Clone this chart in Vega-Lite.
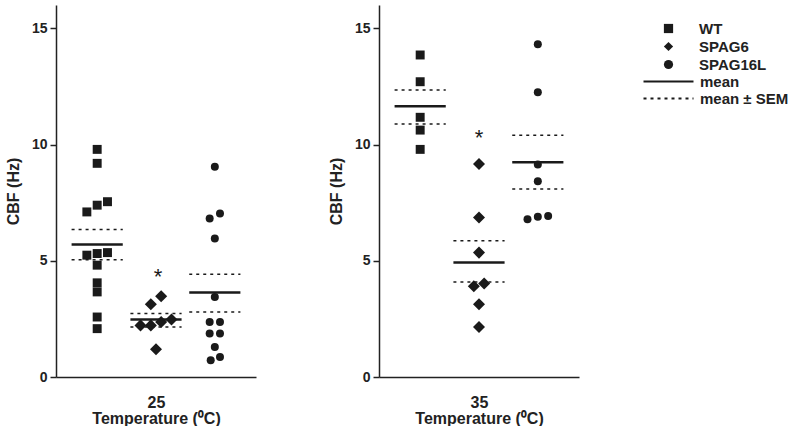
{
  "$schema": "https://vega.github.io/schema/vega-lite/v6.json",
  "padding": {"left": 5, "top": 5, "right": 0, "bottom": 0},
  "background": "white",
  "spacing": 72,
  "config": {
    "font": "Liberation Sans",
    "view": {"stroke": null},
    "axis": {"grid": false, "domainColor": "#222", "domainWidth": 1.5, "tickColor": "#222", "tickWidth": 1.5, "tickSize": 6, "labelFontWeight": "bold", "titleFontWeight": "bold", "labelColor": "#222", "titleColor": "#222", "labelFontSize": 14, "titleFontSize": 16, "labelPadding": 3, "titleLineHeight": 16},
    "legend": {"labelFontSize": 15, "labelFontWeight": "bold", "labelColor": "#222", "rowPadding": 1, "padding": 0}
  },
  "datasets": {
    "points": [
      {"temp": 25, "genotype": "WT", "col": -1, "cbf": 7.10},
      {"temp": 25, "genotype": "WT", "col": -1, "cbf": 5.24},
      {"temp": 25, "genotype": "WT", "col": 0, "cbf": 9.79},
      {"temp": 25, "genotype": "WT", "col": 0, "cbf": 9.19},
      {"temp": 25, "genotype": "WT", "col": 0, "cbf": 7.39},
      {"temp": 25, "genotype": "WT", "col": 0, "cbf": 5.31},
      {"temp": 25, "genotype": "WT", "col": 0, "cbf": 4.81},
      {"temp": 25, "genotype": "WT", "col": 0, "cbf": 4.05},
      {"temp": 25, "genotype": "WT", "col": 0, "cbf": 3.66},
      {"temp": 25, "genotype": "WT", "col": 0, "cbf": 2.58},
      {"temp": 25, "genotype": "WT", "col": 0, "cbf": 2.08},
      {"temp": 25, "genotype": "WT", "col": 1, "cbf": 7.54},
      {"temp": 25, "genotype": "WT", "col": 1, "cbf": 5.35},
      {"temp": 25, "genotype": "SPAG6", "col": -1.5, "cbf": 2.22},
      {"temp": 25, "genotype": "SPAG6", "col": -0.5, "cbf": 2.22},
      {"temp": 25, "genotype": "SPAG6", "col": -0.5, "cbf": 3.13},
      {"temp": 25, "genotype": "SPAG6", "col": 0.5, "cbf": 3.47},
      {"temp": 25, "genotype": "SPAG6", "col": 0.5, "cbf": 2.37},
      {"temp": 25, "genotype": "SPAG6", "col": 1.5, "cbf": 2.47},
      {"temp": 25, "genotype": "SPAG6", "col": 0, "cbf": 1.19},
      {"temp": 25, "genotype": "SPAG16L", "col": 0, "cbf": 9.04},
      {"temp": 25, "genotype": "SPAG16L", "col": -0.5, "cbf": 6.82},
      {"temp": 25, "genotype": "SPAG16L", "col": 0.5, "cbf": 7.03},
      {"temp": 25, "genotype": "SPAG16L", "col": 0, "cbf": 5.96},
      {"temp": 25, "genotype": "SPAG16L", "col": 0, "cbf": 3.44},
      {"temp": 25, "genotype": "SPAG16L", "col": -0.5, "cbf": 2.37},
      {"temp": 25, "genotype": "SPAG16L", "col": 0.5, "cbf": 2.37},
      {"temp": 25, "genotype": "SPAG16L", "col": -0.5, "cbf": 1.87},
      {"temp": 25, "genotype": "SPAG16L", "col": 0.5, "cbf": 1.87},
      {"temp": 25, "genotype": "SPAG16L", "col": 0, "cbf": 1.29},
      {"temp": 25, "genotype": "SPAG16L", "col": -0.4, "cbf": 0.72},
      {"temp": 25, "genotype": "SPAG16L", "col": 0.5, "cbf": 0.86},
      {"temp": 35, "genotype": "WT", "col": 0, "cbf": 13.85},
      {"temp": 35, "genotype": "WT", "col": 0, "cbf": 12.70},
      {"temp": 35, "genotype": "WT", "col": 0, "cbf": 11.17},
      {"temp": 35, "genotype": "WT", "col": 0, "cbf": 10.62},
      {"temp": 35, "genotype": "WT", "col": 0, "cbf": 9.79},
      {"temp": 35, "genotype": "SPAG6", "col": 0, "cbf": 9.16},
      {"temp": 35, "genotype": "SPAG6", "col": 0, "cbf": 6.86},
      {"temp": 35, "genotype": "SPAG6", "col": 0, "cbf": 5.35},
      {"temp": 35, "genotype": "SPAG6", "col": -0.5, "cbf": 3.90},
      {"temp": 35, "genotype": "SPAG6", "col": 0.5, "cbf": 4.02},
      {"temp": 35, "genotype": "SPAG6", "col": 0, "cbf": 3.13},
      {"temp": 35, "genotype": "SPAG6", "col": 0, "cbf": 2.15},
      {"temp": 35, "genotype": "SPAG16L", "col": 0, "cbf": 14.31},
      {"temp": 35, "genotype": "SPAG16L", "col": 0, "cbf": 12.25},
      {"temp": 35, "genotype": "SPAG16L", "col": 0, "cbf": 9.14},
      {"temp": 35, "genotype": "SPAG16L", "col": 0, "cbf": 8.42},
      {"temp": 35, "genotype": "SPAG16L", "col": -1, "cbf": 6.79},
      {"temp": 35, "genotype": "SPAG16L", "col": 0, "cbf": 6.89},
      {"temp": 35, "genotype": "SPAG16L", "col": 1, "cbf": 6.92}
    ],
    "stats": [
      {"temp": 25, "genotype": "WT", "stat": "mean", "cbf": 5.70},
      {"temp": 25, "genotype": "WT", "stat": "mean ± SEM", "cbf": 6.34},
      {"temp": 25, "genotype": "WT", "stat": "mean ± SEM", "cbf": 5.04},
      {"temp": 25, "genotype": "SPAG6", "stat": "mean", "cbf": 2.47},
      {"temp": 25, "genotype": "SPAG6", "stat": "mean ± SEM", "cbf": 2.73},
      {"temp": 25, "genotype": "SPAG6", "stat": "mean ± SEM", "cbf": 2.15},
      {"temp": 25, "genotype": "SPAG16L", "stat": "mean", "cbf": 3.63},
      {"temp": 25, "genotype": "SPAG16L", "stat": "mean ± SEM", "cbf": 4.42},
      {"temp": 25, "genotype": "SPAG16L", "stat": "mean ± SEM", "cbf": 2.80},
      {"temp": 35, "genotype": "WT", "stat": "mean", "cbf": 11.65},
      {"temp": 35, "genotype": "WT", "stat": "mean ± SEM", "cbf": 12.34},
      {"temp": 35, "genotype": "WT", "stat": "mean ± SEM", "cbf": 10.88},
      {"temp": 35, "genotype": "SPAG6", "stat": "mean", "cbf": 4.92},
      {"temp": 35, "genotype": "SPAG6", "stat": "mean ± SEM", "cbf": 5.86},
      {"temp": 35, "genotype": "SPAG6", "stat": "mean ± SEM", "cbf": 4.09},
      {"temp": 35, "genotype": "SPAG16L", "stat": "mean", "cbf": 9.24},
      {"temp": 35, "genotype": "SPAG16L", "stat": "mean ± SEM", "cbf": 10.40},
      {"temp": 35, "genotype": "SPAG16L", "stat": "mean ± SEM", "cbf": 8.09}
    ],
    "sig": [
      {"temp": 25, "genotype": "SPAG6", "cbf": 4.45, "label": "*"},
      {"temp": 35, "genotype": "SPAG6", "cbf": 10.41, "label": "*"}
    ]
  },
  "hconcat": [
    {
      "width": 200, "height": 372,
      "layer": [
        {
          "data": {"name": "points"},
          "transform": [{"filter": "datum.temp == 25"}],
          "mark": {"type": "point", "filled": true, "opacity": 1, "color": "#1a1a1a"},
          "encoding": {
            "x": {"field": "genotype", "type": "nominal", "scale": {"domain": ["WT", "SPAG6", "SPAG16L"], "paddingInner": 0, "paddingOuter": 0.2}, "axis": {"labels": false, "ticks": false, "title": ["25", "Temperature (⁰C)"], "titlePadding": 17}},
            "xOffset": {"field": "col", "type": "quantitative", "scale": {"domain": [-2.85, 2.85]}},
            "y": {"field": "cbf", "type": "quantitative", "scale": {"domain": [0, 16]}, "axis": {"values": [0, 5, 10, 15], "title": "CBF (Hz)", "titlePadding": 10}},
            "shape": {"field": "genotype", "type": "nominal", "scale": {"domain": ["WT", "SPAG6", "SPAG16L"], "range": ["square", "diamond", "circle"]}, "legend": {"title": null, "orient": "none", "legendX": 605, "legendY": 16, "symbolSize": 85, "symbolFillColor": "#1a1a1a", "symbolStrokeColor": "#1a1a1a", "labelOffset": 23}},
            "size": {"condition": [{"test": "datum.genotype == 'SPAG6'", "value": 145}, {"test": "datum.genotype == 'SPAG16L'", "value": 64}], "value": 80}
          }
        },
        {
          "data": {"name": "stats"},
          "transform": [{"filter": "datum.temp == 25"}],
          "mark": {"type": "rule", "color": "#1a1a1a"},
          "encoding": {
            "x": {"field": "genotype", "type": "nominal", "bandPosition": 0.065},
            "x2": {"field": "genotype", "bandPosition": 0.935},
            "y": {"field": "cbf", "type": "quantitative"},
            "strokeDash": {"field": "stat", "type": "nominal", "scale": {"domain": ["mean", "mean ± SEM"], "range": [[1, 0], [3, 4]]}, "legend": {"title": null, "orient": "none", "legendX": 605, "legendY": 69, "symbolType": "M-5,0L5,0", "symbolSize": 100, "symbolStrokeColor": "#1a1a1a", "symbolStrokeWidth": 2, "labelOffset": 24}},
            "strokeWidth": {"condition": {"test": "datum.stat == 'mean'", "value": 2.5}, "value": 1.5}
          }
        },
        {
          "data": {"name": "sig"},
          "transform": [{"filter": "datum.temp == 25"}],
          "mark": {"type": "text", "fontSize": 22, "fontWeight": "normal", "color": "#1a1a1a", "baseline": "middle", "dy": 3, "dx": 2},
          "encoding": {
            "x": {"field": "genotype", "type": "nominal"},
            "y": {"field": "cbf", "type": "quantitative"},
            "text": {"field": "label"}
          }
        }
      ]
    },
    {
      "width": 200, "height": 372,
      "layer": [
        {
          "data": {"name": "points"},
          "transform": [{"filter": "datum.temp == 35"}],
          "mark": {"type": "point", "filled": true, "opacity": 1, "color": "#1a1a1a"},
          "encoding": {
            "x": {"field": "genotype", "type": "nominal", "scale": {"domain": ["WT", "SPAG6", "SPAG16L"], "paddingInner": 0, "paddingOuter": 0.2}, "axis": {"labels": false, "ticks": false, "title": ["35", "Temperature (⁰C)"], "titlePadding": 17}},
            "xOffset": {"field": "col", "type": "quantitative", "scale": {"domain": [-2.85, 2.85]}},
            "y": {"field": "cbf", "type": "quantitative", "scale": {"domain": [0, 16]}, "axis": {"values": [0, 5, 10, 15], "title": "CBF (Hz)", "titlePadding": 10}},
            "shape": {"field": "genotype", "type": "nominal", "scale": {"domain": ["WT", "SPAG6", "SPAG16L"], "range": ["square", "diamond", "circle"]}},
            "size": {"condition": [{"test": "datum.genotype == 'SPAG6'", "value": 145}, {"test": "datum.genotype == 'SPAG16L'", "value": 64}], "value": 80}
          }
        },
        {
          "data": {"name": "stats"},
          "transform": [{"filter": "datum.temp == 35"}],
          "mark": {"type": "rule", "color": "#1a1a1a"},
          "encoding": {
            "x": {"field": "genotype", "type": "nominal", "bandPosition": 0.065},
            "x2": {"field": "genotype", "bandPosition": 0.935},
            "y": {"field": "cbf", "type": "quantitative"},
            "strokeDash": {"field": "stat", "type": "nominal", "scale": {"domain": ["mean", "mean ± SEM"], "range": [[1, 0], [3, 4]]}},
            "strokeWidth": {"condition": {"test": "datum.stat == 'mean'", "value": 2.5}, "value": 1.5}
          }
        },
        {
          "data": {"name": "sig"},
          "transform": [{"filter": "datum.temp == 35"}],
          "mark": {"type": "text", "fontSize": 22, "fontWeight": "normal", "color": "#1a1a1a", "baseline": "middle", "dy": 3},
          "encoding": {
            "x": {"field": "genotype", "type": "nominal"},
            "y": {"field": "cbf", "type": "quantitative"},
            "text": {"field": "label"}
          }
        }
      ]
    }
  ]
}
